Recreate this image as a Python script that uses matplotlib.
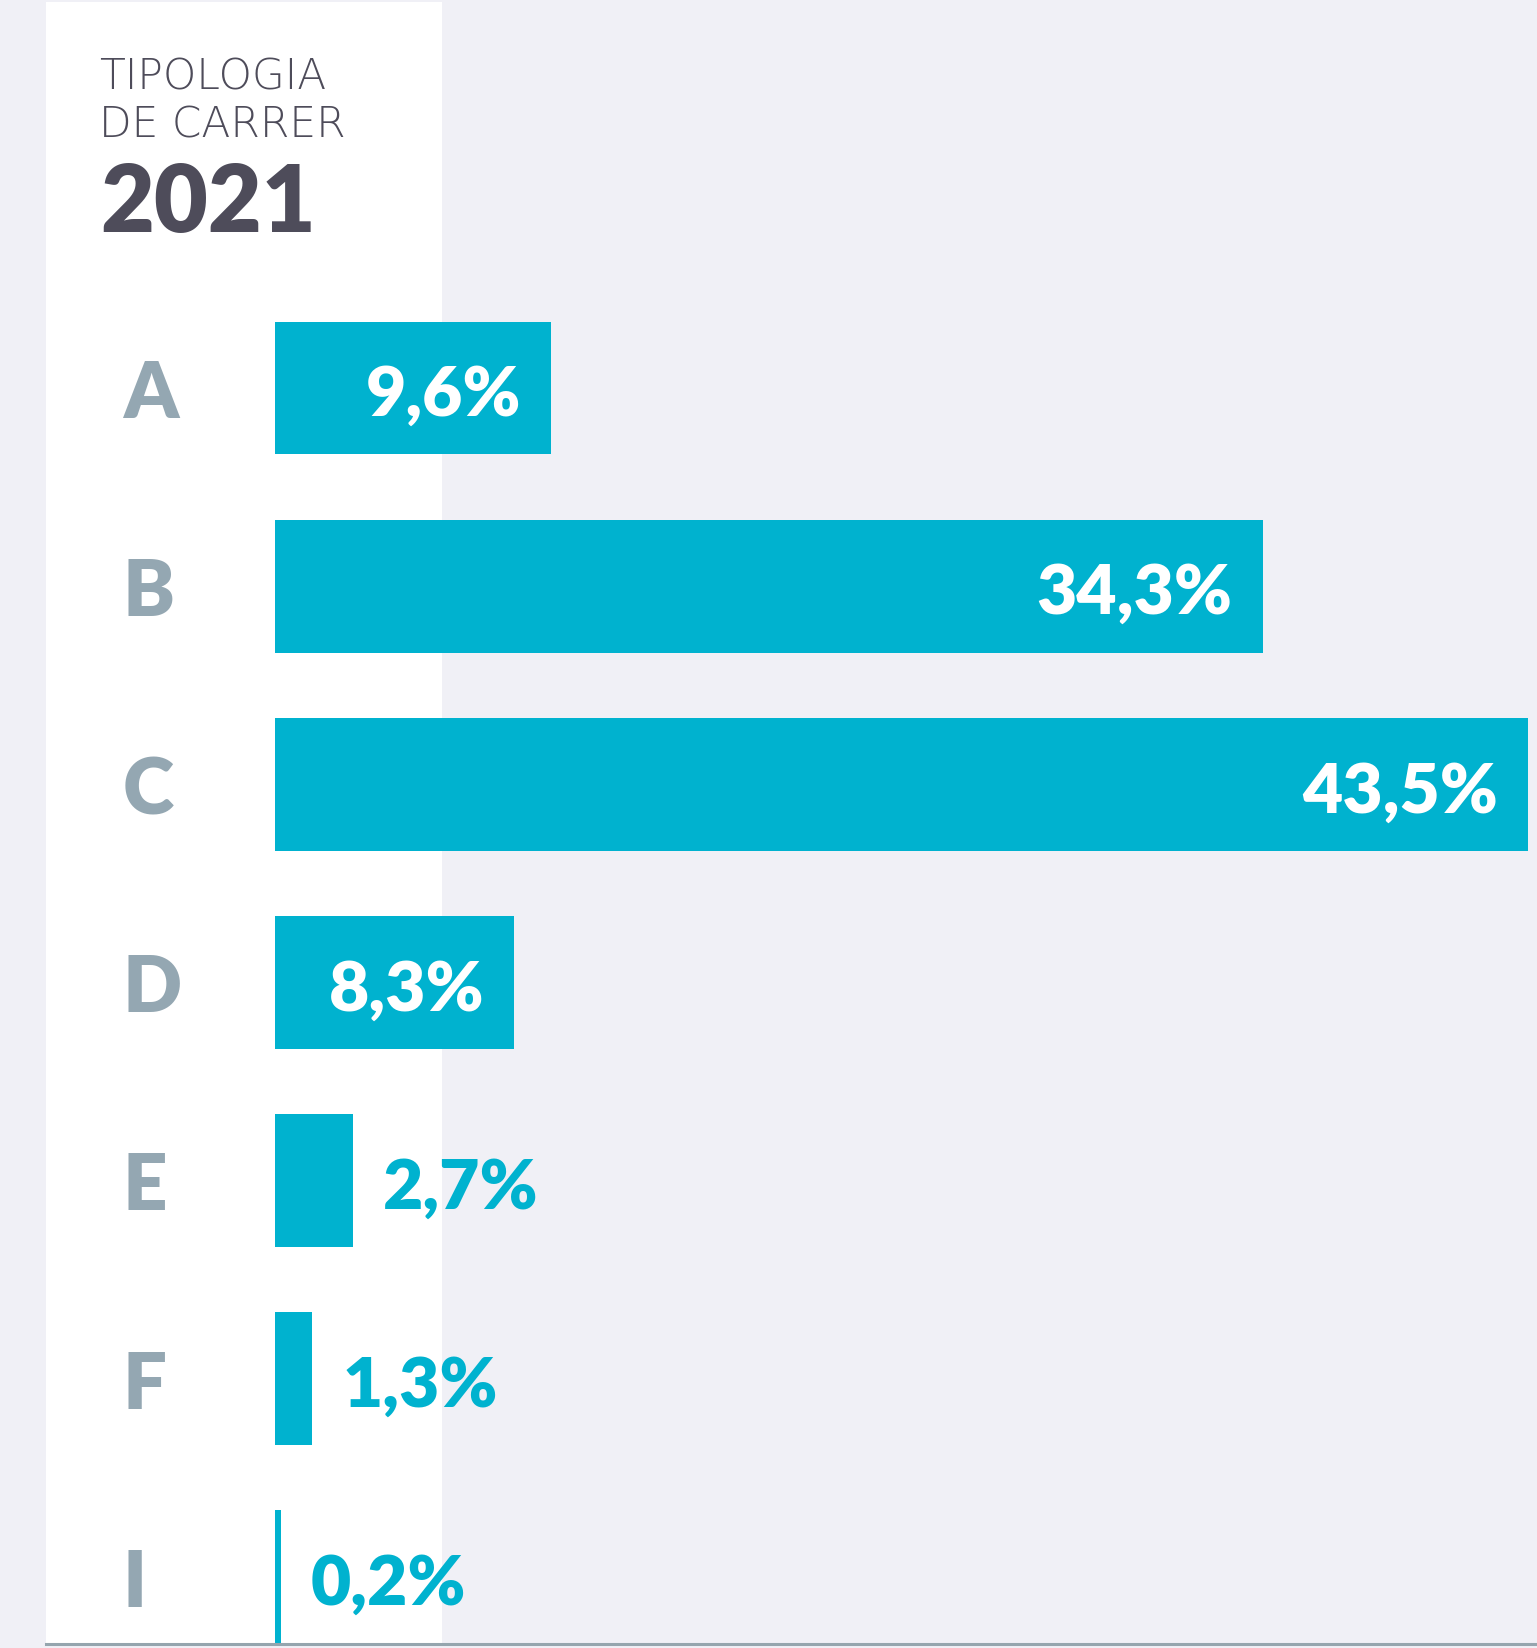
import matplotlib
matplotlib.use('Agg')
import matplotlib.pyplot as plt
from matplotlib.patches import Rectangle
from matplotlib.lines import Line2D

categories = ['A', 'B', 'C', 'D', 'E', 'F', 'I']
values = [9.6, 34.3, 43.5, 8.3, 2.7, 1.3, 0.2]
value_labels = ['9,6%', '34,3%', '43,5%', '8,3%', '2,7%', '1,3%', '0,2%']
title_lines = ['TIPOLOGIA', 'DE CARRER']
year = '2021'

W, H = 1537, 1649
bg = '#f0f0f6'
teal = '#00b2cf'
letter_col = '#94a7b2'
title_col = '#4e4c5a'
font = ['Lato', 'DejaVu Sans']

def fx(x):
    return x / W

def fy(y):
    return 1 - y / H

fig = plt.figure(figsize=(W / 100, H / 100), dpi=100, facecolor=bg)

# white side panel
panel = Rectangle((fx(46), fy(1645)), fx(441.5) - fx(46), fy(3) - fy(1645),
                  transform=fig.transFigure, facecolor='white', edgecolor='none', zorder=-1)
fig.add_artist(panel)

ax = fig.add_axes([fx(275), fy(1644), fx(1527.7) - fx(275), fy(290) - fy(1644)])
ax.patch.set_alpha(0)
ax.barh(range(len(values)), values, height=0.67, color=teal, zorder=2)
ax.set_xlim(0, 43.5)
ax.set_ylim(6.335, -0.5)
ax.axis('off')

pt = 72 / 100  # pixels -> points
for i, (cat, v, lab) in enumerate(zip(categories, values, value_labels)):
    ax.annotate(cat, xy=(0, i), xytext=(-152 * pt, -29 * pt), textcoords='offset points',
                ha='left', va='baseline', fontsize=56, fontweight='heavy',
                color=letter_col, family=font)
    if v >= 5:
        ax.annotate(lab, xy=(v, i), xytext=(-30 * pt, -27 * pt), textcoords='offset points',
                    ha='right', va='baseline', fontsize=50, fontweight='heavy',
                    color='white', family=font, zorder=3)
    else:
        ax.annotate(lab, xy=(v, i), xytext=(30 * pt, -27 * pt), textcoords='offset points',
                    ha='left', va='baseline', fontsize=50, fontweight='heavy',
                    color=teal, family=font, zorder=3)

# title block
for k, line in enumerate(title_lines):
    fig.text(fx(99), fy(90 + 48 * k), line, fontsize=30.5, fontweight='light',
             color=title_col, family=['DejaVu Sans'], va='baseline', ha='left')
fig.text(fx(100), fy(232), year, fontsize=67, fontweight='heavy',
         color=title_col, family=font, va='baseline', ha='left')

# baseline
fig.add_artist(Line2D([fx(46), 1], [fy(1645), fy(1645)], transform=fig.transFigure,
                      color='#95a5ae', lw=2.2, zorder=5))

fig.savefig('out.png', dpi=100, facecolor=bg)
